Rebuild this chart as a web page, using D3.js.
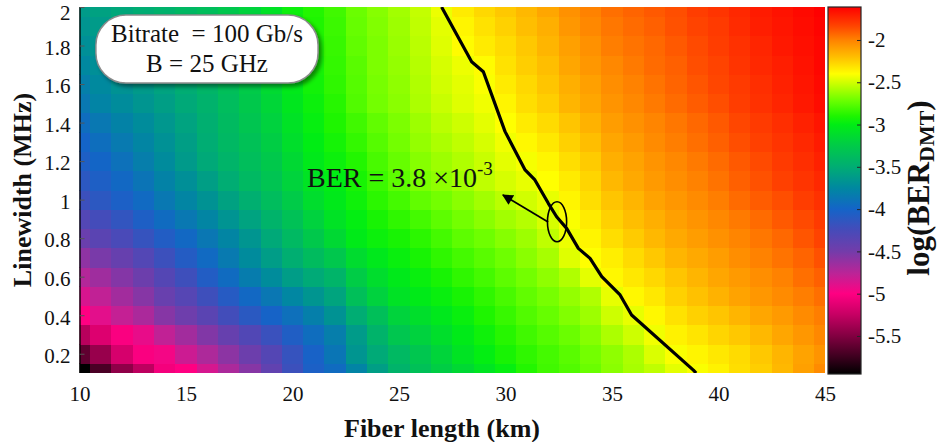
<html>
  <head>
    <meta charset="utf-8">
    <title>log(BER) map: fiber length vs linewidth</title>
    <style>
      body { margin: 0; background: #fff; }
      svg text { font-family: "Liberation Serif", "Times New Roman", serif; fill: #111; }
    </style>
    <script src="https://cdn.jsdelivr.net/npm/d3@7"></script>
  </head>
  <body>
    <svg id="ber-map"></svg>
    <script>
      // Fiber lengths (km), one per cell column
      let fiberLengths = [10, 11, 12, 13, 14, 15, 16, 17, 18, 19, 20, 21, 22, 23, 24, 25, 26, 27,
                          28, 29, 30, 31, 32, 33, 34, 35, 36, 37, 38, 39, 40, 41, 42, 43, 44, 45];
      // Laser linewidths (MHz), one per cell row
      let linewidths = [0.1, 0.2, 0.3, 0.4, 0.5, 0.6, 0.7, 0.8, 0.9, 1.0,
                        1.1, 1.2, 1.3, 1.4, 1.5, 1.6, 1.7, 1.8, 1.9, 2.0];
      // log10(BER_DMT), one row per linewidth (bottom row first)
      let logBer = [
        [-5.95,-5.70,-5.45,-5.28,-5.05,-5.00,-4.85,-4.70,-4.57,-4.40,-4.20,-4.04,-3.95,-3.78,-3.60,-3.45,-3.34,-3.23,-3.15,-3.06,-2.98,-2.89,-2.82,-2.78,-2.72,-2.65,-2.59,-2.54,-2.46,-2.41,-2.36,-2.30,-2.25,-2.18,-2.10,-2.03],
        [-5.62,-5.42,-5.18,-5.02,-4.96,-4.82,-4.71,-4.59,-4.46,-4.33,-4.17,-4.02,-3.88,-3.66,-3.52,-3.40,-3.29,-3.18,-3.07,-2.99,-2.92,-2.86,-2.81,-2.76,-2.70,-2.64,-2.58,-2.48,-2.41,-2.37,-2.33,-2.29,-2.23,-2.17,-2.11,-2.06],
        [-5.30,-5.15,-5.02,-4.92,-4.78,-4.67,-4.55,-4.43,-4.31,-4.19,-4.06,-3.94,-3.82,-3.62,-3.45,-3.29,-3.20,-3.11,-3.02,-2.95,-2.88,-2.82,-2.77,-2.72,-2.66,-2.58,-2.51,-2.43,-2.36,-2.32,-2.27,-2.23,-2.18,-2.12,-2.07,-2.02],
        [-5.00,-4.90,-4.79,-4.70,-4.57,-4.47,-4.36,-4.23,-4.11,-4.01,-3.92,-3.81,-3.68,-3.50,-3.35,-3.19,-3.11,-3.04,-2.97,-2.90,-2.84,-2.78,-2.73,-2.67,-2.61,-2.51,-2.45,-2.38,-2.31,-2.26,-2.22,-2.17,-2.12,-2.08,-2.03,-1.99],
        [-4.86,-4.78,-4.67,-4.57,-4.44,-4.34,-4.21,-4.09,-3.97,-3.87,-3.76,-3.66,-3.56,-3.35,-3.20,-3.08,-3.02,-2.97,-2.92,-2.86,-2.80,-2.74,-2.69,-2.63,-2.57,-2.45,-2.38,-2.33,-2.26,-2.21,-2.16,-2.11,-2.07,-2.03,-1.99,-1.95],
        [-4.73,-4.66,-4.56,-4.46,-4.33,-4.21,-4.07,-3.95,-3.83,-3.72,-3.61,-3.52,-3.44,-3.24,-3.12,-3.03,-2.97,-2.92,-2.86,-2.81,-2.75,-2.70,-2.64,-2.57,-2.46,-2.38,-2.33,-2.28,-2.22,-2.17,-2.12,-2.08,-2.04,-2.00,-1.95,-1.91],
        [-4.60,-4.52,-4.43,-4.32,-4.20,-4.08,-3.96,-3.85,-3.73,-3.61,-3.49,-3.38,-3.28,-3.13,-3.04,-2.97,-2.92,-2.86,-2.81,-2.76,-2.71,-2.65,-2.59,-2.47,-2.40,-2.35,-2.29,-2.23,-2.17,-2.13,-2.09,-2.04,-2.00,-1.96,-1.92,-1.87],
        [-4.45,-4.36,-4.27,-4.17,-4.07,-3.97,-3.87,-3.77,-3.66,-3.53,-3.40,-3.27,-3.15,-3.02,-2.96,-2.92,-2.87,-2.81,-2.75,-2.71,-2.66,-2.61,-2.54,-2.44,-2.37,-2.30,-2.24,-2.18,-2.13,-2.09,-2.05,-2.01,-1.97,-1.93,-1.88,-1.83],
        [-4.32,-4.24,-4.15,-4.05,-3.95,-3.86,-3.77,-3.67,-3.57,-3.45,-3.33,-3.20,-3.08,-2.99,-2.92,-2.86,-2.81,-2.75,-2.70,-2.65,-2.60,-2.56,-2.49,-2.41,-2.34,-2.26,-2.20,-2.15,-2.10,-2.06,-2.02,-1.98,-1.94,-1.89,-1.85,-1.80],
        [-4.20,-4.12,-4.04,-3.96,-3.86,-3.77,-3.68,-3.58,-3.48,-3.37,-3.25,-3.12,-3.03,-2.95,-2.87,-2.81,-2.74,-2.70,-2.65,-2.60,-2.55,-2.50,-2.45,-2.37,-2.30,-2.22,-2.17,-2.11,-2.07,-2.03,-1.99,-1.94,-1.90,-1.86,-1.81,-1.77],
        [-4.12,-4.05,-3.97,-3.89,-3.79,-3.70,-3.60,-3.50,-3.40,-3.31,-3.19,-3.07,-3.00,-2.92,-2.83,-2.75,-2.68,-2.64,-2.60,-2.54,-2.49,-2.45,-2.40,-2.34,-2.27,-2.18,-2.13,-2.08,-2.04,-2.00,-1.96,-1.91,-1.87,-1.82,-1.78,-1.74],
        [-4.05,-3.99,-3.91,-3.82,-3.73,-3.63,-3.53,-3.44,-3.36,-3.27,-3.15,-3.03,-2.96,-2.89,-2.80,-2.73,-2.66,-2.61,-2.57,-2.52,-2.46,-2.42,-2.37,-2.30,-2.24,-2.15,-2.11,-2.06,-2.02,-1.98,-1.94,-1.89,-1.85,-1.80,-1.76,-1.72],
        [-4.00,-3.93,-3.85,-3.77,-3.69,-3.60,-3.50,-3.41,-3.33,-3.23,-3.11,-3.00,-2.93,-2.85,-2.77,-2.70,-2.63,-2.58,-2.54,-2.49,-2.43,-2.38,-2.33,-2.26,-2.20,-2.12,-2.08,-2.03,-1.99,-1.95,-1.91,-1.86,-1.82,-1.78,-1.74,-1.70],
        [-3.94,-3.86,-3.79,-3.72,-3.65,-3.57,-3.48,-3.39,-3.30,-3.20,-3.08,-2.98,-2.90,-2.82,-2.74,-2.68,-2.61,-2.55,-2.51,-2.46,-2.40,-2.34,-2.29,-2.22,-2.16,-2.09,-2.05,-2.01,-1.97,-1.93,-1.89,-1.84,-1.80,-1.76,-1.72,-1.68],
        [-3.86,-3.78,-3.72,-3.66,-3.60,-3.53,-3.46,-3.37,-3.27,-3.17,-3.05,-2.96,-2.88,-2.78,-2.70,-2.65,-2.58,-2.52,-2.47,-2.43,-2.37,-2.30,-2.25,-2.17,-2.12,-2.06,-2.02,-1.98,-1.94,-1.90,-1.86,-1.81,-1.77,-1.73,-1.69,-1.65],
        [-3.81,-3.74,-3.68,-3.63,-3.57,-3.50,-3.43,-3.35,-3.25,-3.14,-3.03,-2.94,-2.86,-2.77,-2.69,-2.64,-2.57,-2.50,-2.46,-2.41,-2.34,-2.28,-2.22,-2.15,-2.10,-2.04,-2.00,-1.96,-1.92,-1.88,-1.84,-1.80,-1.76,-1.72,-1.68,-1.64],
        [-3.75,-3.70,-3.64,-3.59,-3.54,-3.47,-3.41,-3.33,-3.23,-3.12,-3.01,-2.93,-2.85,-2.76,-2.68,-2.63,-2.56,-2.49,-2.44,-2.39,-2.31,-2.25,-2.20,-2.12,-2.07,-2.02,-1.98,-1.94,-1.91,-1.86,-1.83,-1.78,-1.74,-1.71,-1.67,-1.63],
        [-3.70,-3.66,-3.61,-3.56,-3.51,-3.45,-3.39,-3.31,-3.22,-3.10,-2.99,-2.91,-2.84,-2.74,-2.68,-2.62,-2.55,-2.47,-2.39,-2.34,-2.29,-2.23,-2.17,-2.10,-2.05,-1.99,-1.96,-1.93,-1.89,-1.85,-1.81,-1.77,-1.73,-1.69,-1.66,-1.63],
        [-3.66,-3.62,-3.57,-3.53,-3.48,-3.43,-3.37,-3.30,-3.20,-3.09,-2.97,-2.90,-2.83,-2.73,-2.67,-2.61,-2.54,-2.46,-2.37,-2.31,-2.26,-2.20,-2.15,-2.07,-2.02,-1.97,-1.94,-1.91,-1.87,-1.83,-1.80,-1.75,-1.71,-1.68,-1.65,-1.62],
        [-3.62,-3.58,-3.54,-3.50,-3.46,-3.41,-3.36,-3.28,-3.19,-3.08,-2.96,-2.89,-2.82,-2.72,-2.66,-2.60,-2.53,-2.44,-2.34,-2.28,-2.23,-2.18,-2.12,-2.05,-2.00,-1.95,-1.92,-1.89,-1.86,-1.81,-1.78,-1.74,-1.70,-1.67,-1.64,-1.61]
      ];

      // BER = 3.8e-3 threshold line
      let contourLength    = [27.00, 28.41, 28.96, 29.98, 30.92, 31.38, 32.01, 32.40, 32.87, 33.42, 33.97, 34.52, 35.38, 35.92, 38.82, 38.95];
      let contourLinewidth = [2.000, 1.716, 1.664, 1.353, 1.154, 1.102, 0.981, 0.911, 0.851, 0.747, 0.695, 0.600, 0.505, 0.401, 0.115, 0.100];

      // Tick values
      let xTicks = [10, 15, 20, 25, 30, 35, 40, 45];
      let yTicks = [0.2, 0.4, 0.6, 0.8, 1.0, 1.2, 1.4, 1.6, 1.8, 2.0];
      let colorTicks = [-5.5, -5, -4.5, -4, -3.5, -3, -2.5, -2];

      // Colour map stops (log BER -> colour), black-pink-blue-green-yellow-red
      let cmapValues = [-5.95, -5.75, -5.50, -5.24, -5.00, -4.77, -4.50, -4.25, -4.00, -3.75, -3.50,
                        -3.24, -3.00, -2.90, -2.71, -2.52, -2.40, -2.20, -2.00, -1.84, -1.61];
      let cmapColors = ['#000000', '#3c001e', '#820041', '#c80064', '#ff0082', '#be2396', '#733caa',
                        '#464bb9', '#1464c8', '#0088a0', '#00ad73', '#00cc46', '#00ed14', '#1ef500',
                        '#6eff00', '#c8ff00', '#ffff00', '#ffbe00', '#ff8200', '#ff4600', '#ff0000'];

      let width = 941, height = 442;
      let svg = d3.select('#ber-map').attr('width', width).attr('height', height);

      let plotLeft = 79.5, plotRight = 825, plotTop = 7, plotBottom = 373;
      let xScale = d3.scaleLinear().domain([10, 45]).range([plotLeft, plotRight]);
      let yScale = d3.scaleLinear().domain([0.1, 2.0]).range([plotBottom, plotTop]);
      let colorScale = d3.scaleLinear().domain(cmapValues).range(cmapColors).clamp(true);

      let defs = svg.append('defs');
      defs.append('clipPath').attr('id', 'plot-clip')
        .append('rect')
        .attr('x', plotLeft).attr('y', plotTop)
        .attr('width', plotRight - plotLeft).attr('height', plotBottom - plotTop);

      defs.append('marker')
        .attr('id', 'arrow-head')
        .attr('viewBox', '0 0 10 10')
        .attr('refX', 9).attr('refY', 5)
        .attr('markerWidth', 7).attr('markerHeight', 6)
        .attr('markerUnits', 'strokeWidth')
        .attr('orient', 'auto')
        .append('path').attr('d', 'M0,0 L10,5 L0,10 Z').attr('fill', '#000');

      let shadow = defs.append('filter').attr('id', 'box-shadow')
        .attr('x', '-10%').attr('y', '-20%').attr('width', '130%').attr('height', '150%');
      shadow.append('feDropShadow')
        .attr('dx', 3).attr('dy', 3).attr('stdDeviation', 2)
        .attr('flood-color', '#000').attr('flood-opacity', 0.45);

      // Heat map cells, centred on each (length, linewidth) sample
      let lengthStep = fiberLengths[1] - fiberLengths[0];
      let widthStep = linewidths[1] - linewidths[0];
      let cells = [];
      logBer.forEach((row, i) => {
        row.forEach((value, j) => {
          cells.push({ length: fiberLengths[j], linewidth: linewidths[i], value: value });
        });
      });

      let plot = svg.append('g').attr('clip-path', 'url(#plot-clip)');
      plot.selectAll('rect.cell')
        .data(cells)
        .join('rect')
        .attr('class', 'cell')
        .attr('x', d => xScale(d.length - lengthStep / 2))
        .attr('width', xScale(lengthStep) - xScale(0) + 0.5)
        .attr('y', d => yScale(d.linewidth + widthStep / 2))
        .attr('height', yScale(0) - yScale(widthStep) + 0.5)
        .attr('fill', d => colorScale(d.value))
        .attr('shape-rendering', 'crispEdges');

      // BER threshold line
      let contourPoints = contourLength.map((l, i) => [l, contourLinewidth[i]]);
      plot.append('path')
        .datum(contourPoints)
        .attr('fill', 'none')
        .attr('stroke', '#000')
        .attr('stroke-width', 3.2)
        .attr('stroke-linejoin', 'round')
        .attr('d', d3.line().x(d => xScale(d[0])).y(d => yScale(d[1])));

      // Ellipse + arrow pointing to the label
      svg.append('ellipse')
        .attr('cx', xScale(32.42)).attr('cy', yScale(0.885))
        .attr('rx', xScale(10.45) - xScale(10)).attr('ry', yScale(0.1) - yScale(0.204))
        .attr('fill', 'none').attr('stroke', '#000').attr('stroke-width', 1.6);
      svg.append('line')
        .attr('x1', xScale(32.0)).attr('y1', yScale(0.884))
        .attr('x2', xScale(29.88)).attr('y2', yScale(1.024))
        .attr('stroke', '#000').attr('stroke-width', 1.8)
        .attr('marker-end', 'url(#arrow-head)');

      let berLabel = svg.append('text')
        .attr('x', xScale(20.68)).attr('y', yScale(1.065))
        .style('font-size', '28px');
      berLabel.append('tspan').text('BER = 3.8 \u00d710');
      berLabel.append('tspan').attr('dy', -12).style('font-size', '19px').text('-3');

      // Parameter box
      let boxLeft = xScale(10.77), boxRight = xScale(21.2);
      let boxTop = yScale(1.958), boxBottom = yScale(1.605);
      svg.append('rect')
        .attr('x', boxLeft).attr('y', boxTop)
        .attr('width', boxRight - boxLeft).attr('height', boxBottom - boxTop)
        .attr('rx', 30).attr('ry', 30)
        .attr('fill', '#fff').attr('stroke', '#8c8c8c').attr('stroke-width', 1.5)
        .attr('filter', 'url(#box-shadow)');
      let boxCenter = (boxLeft + boxRight) / 2;
      svg.append('text')
        .attr('x', boxCenter).attr('y', boxTop + 27)
        .attr('text-anchor', 'middle')
        .style('font-size', '25px').style('white-space', 'pre')
        .text('Bitrate  = 100 Gb/s');
      svg.append('text')
        .attr('x', boxCenter).attr('y', boxTop + 57)
        .attr('text-anchor', 'middle')
        .style('font-size', '25px')
        .text('B = 25 GHz');

      // Axes
      let xAxis = svg.append('g')
        .attr('transform', `translate(0,${plotBottom})`)
        .call(d3.axisBottom(xScale).tickValues(xTicks).tickSize(0).tickPadding(13));
      xAxis.select('.domain').remove();

      let yAxis = svg.append('g')
        .attr('transform', `translate(${plotLeft},0)`)
        .call(d3.axisLeft(yScale).tickValues(yTicks).tickSizeInner(-5).tickSizeOuter(0)
          .tickPadding(9).tickFormat(d => String(+d.toFixed(1))));
      yAxis.select('.domain').attr('stroke', '#000').attr('stroke-width', 1.3)
        .attr('d', `M0.5,${plotTop}V${plotBottom}`);
      yAxis.selectAll('.tick line').attr('stroke', '#555');
      // the top label sits on the upper edge, push it down a touch so it stays inside
      yAxis.selectAll('.tick text').attr('dy', d => d === 2.0 ? '0.58em' : '0.42em');

      svg.selectAll('.tick text')
        .style('font-size', '21px')
        .style('font-family', '"Liberation Serif", "Times New Roman", serif')
        .attr('fill', '#222');

      svg.append('text')
        .attr('x', 442).attr('y', 437)
        .attr('text-anchor', 'middle')
        .style('font-size', '26px').style('font-weight', 'bold')
        .text('Fiber length (km)');
      svg.append('text')
        .attr('transform', `translate(31,${(plotTop + plotBottom) / 2}) rotate(-90)`)
        .attr('text-anchor', 'middle')
        .style('font-size', '26px').style('font-weight', 'bold')
        .text('Linewidth (MHz)');

      // Colour bar
      let barLeft = 828, barRight = 861, barTop = 7, barBottom = 374;
      let barScale = d3.scaleLinear()
        .domain([cmapValues[0], cmapValues[cmapValues.length - 1]])
        .range([barBottom, barTop]);
      let gradient = defs.append('linearGradient')
        .attr('id', 'bar-gradient')
        .attr('x1', 0).attr('y1', 1).attr('x2', 0).attr('y2', 0);
      cmapValues.forEach((v, i) => {
        gradient.append('stop')
          .attr('offset', (v - cmapValues[0]) / (cmapValues[cmapValues.length - 1] - cmapValues[0]))
          .attr('stop-color', cmapColors[i]);
      });
      svg.append('rect')
        .attr('x', barLeft).attr('y', barTop)
        .attr('width', barRight - barLeft).attr('height', barBottom - barTop)
        .attr('fill', 'url(#bar-gradient)')
        .attr('stroke', '#262626').attr('stroke-width', 1.2);

      let barAxis = svg.append('g')
        .attr('transform', `translate(${barRight},0)`)
        .call(d3.axisRight(barScale).tickValues(colorTicks).tickSizeInner(-4).tickSizeOuter(0)
          .tickPadding(7).tickFormat(d => String(d)));
      barAxis.select('.domain').remove();
      barAxis.selectAll('.tick line').attr('stroke', '#262626');
      barAxis.selectAll('.tick text')
        .style('font-size', '21px')
        .style('font-family', '"Liberation Serif", "Times New Roman", serif')
        .attr('fill', '#222')
        .text(d => '-' + String(Math.abs(d)));

      let barLabel = svg.append('text')
        .attr('transform', 'translate(929,188) rotate(-90)')
        .attr('text-anchor', 'middle')
        .style('font-size', '31px').style('font-weight', 'bold');
      barLabel.append('tspan').text('log(BER');
      barLabel.append('tspan').attr('dy', 5).style('font-size', '22px').text('DMT');
      barLabel.append('tspan').attr('dy', -5).text(')');
    </script>
  </body>
</html>
